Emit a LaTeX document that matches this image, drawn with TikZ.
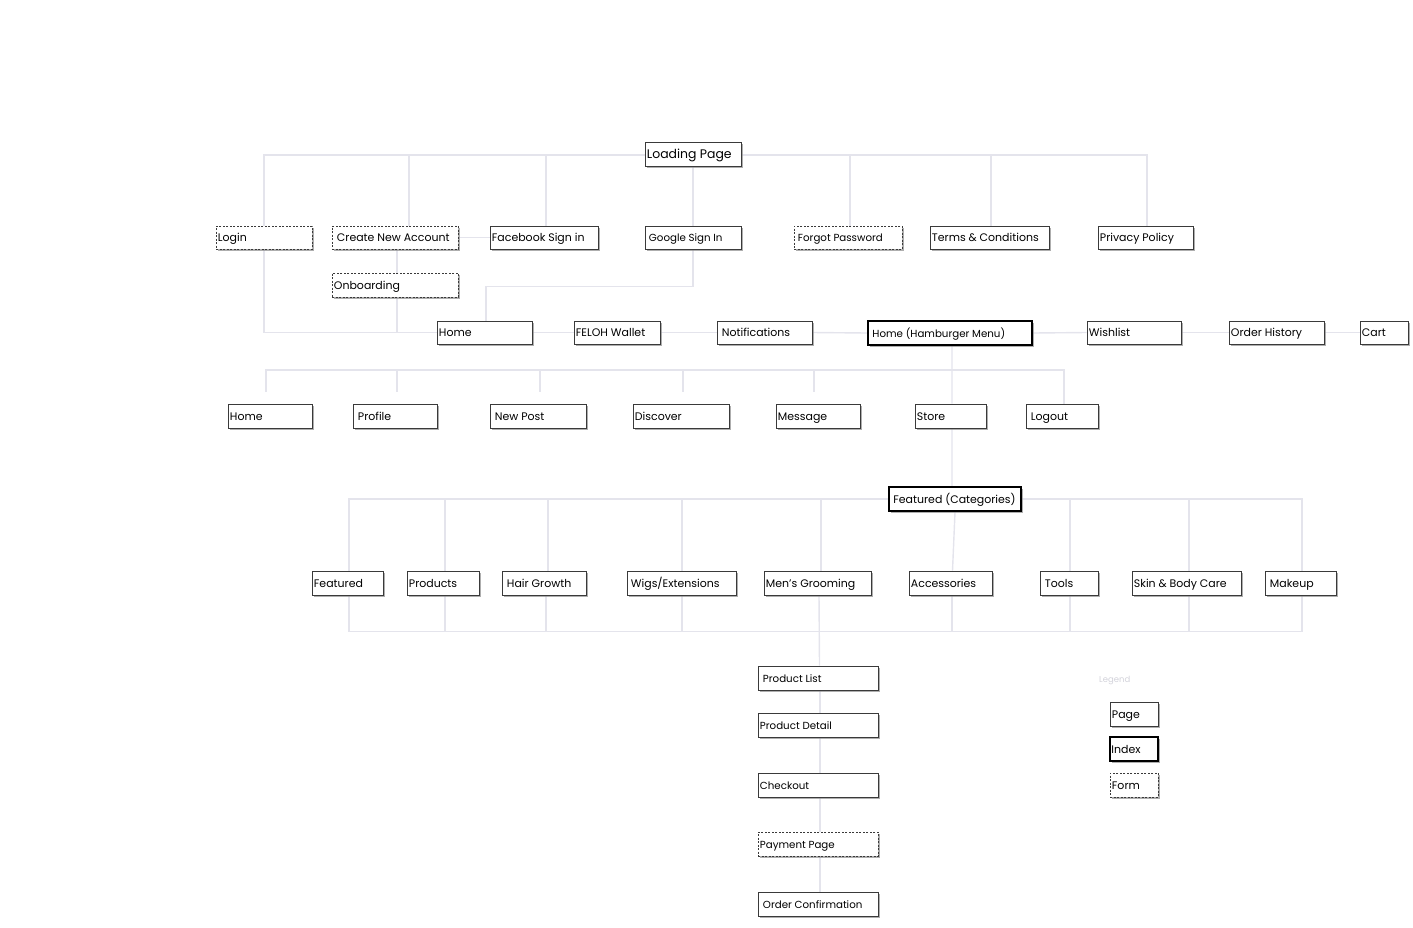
\documentclass[tikz,border=0pt]{standalone}
\usepackage{fontspec}
\setmainfont{Poppins}
\usetikzlibrary{backgrounds,shadows,calc}
\definecolor{boxc}{HTML}{3A3A3A}
\definecolor{linec}{HTML}{E4E4EC}
\definecolor{legc}{HTML}{D2D2DA}
\tikzset{
  base/.style={rectangle, inner sep=0pt, fill=white,
    drop shadow={shadow xshift=1.5bp, shadow yshift=-1.5bp, fill=black!45, opacity=0.7}},
  pagebox/.style={base, draw=boxc, line width=0.9bp},
  idxbox/.style={base, draw=black, line width=2bp},
  formbox/.style={base, draw=boxc, line width=0.9bp, dash pattern=on 2bp off 1.5bp},
  tn/.style={inner sep=0pt, text=black, font=\fontsize{11}{13}\selectfont},
  tsm/.style={inner sep=0pt, text=black, font=\fontsize{10.3}{12}\selectfont},
  tlg/.style={inner sep=0pt, text=black, font=\fontsize{12.5}{14}\selectfont},
  lnk/.style={draw=linec, line width=1.4bp},
}
\newcommand\mybox[8]{%
  \pgfmathsetmacro\cxx{(#3+#5)/2}\pgfmathsetmacro\cyy{(#4+#6)/2}%
  \pgfmathsetmacro\ww{#5-#3}\pgfmathsetmacro\hh{#6-#4}%
  \node[#2, minimum width=\ww bp, minimum height=\hh bp] (#1) at (\cxx,\cyy) {};%
  \node[#7, anchor=base west] (#1-t) at ([xshift=2.2bp,yshift=-4bp]#1.west) {#8};%
}
\begin{document}
\begin{tikzpicture}[x=1bp,y=-1bp]
\useasboundingbox (0,0) rectangle (1413,927);
% row 1
\mybox{load}{pagebox}{645}{142}{741}{166}{tlg}{Loading Page}
% row 2
\mybox{login}{formbox}{216}{226}{312}{249}{tn}{Login}
\mybox{create}{formbox}{332}{226}{458}{249}{tn}{\hspace{3bp}Create New Account}
\mybox{fb}{pagebox}{490}{226}{598}{249}{tn}{Facebook Sign in}
\mybox{google}{pagebox}{645}{226}{741}{249}{tsm}{\hspace{2bp}Google Sign In}
\mybox{forgot}{formbox}{794}{226}{902}{249}{tsm}{\hspace{2bp}Forgot Password}
\mybox{terms}{pagebox}{930}{226}{1049}{249}{tn}{Terms \& Conditions}
\mybox{privacy}{pagebox}{1098}{226}{1193}{249}{tn}{Privacy Policy}
\mybox{onb}{formbox}{332}{273}{458}{297}{tn}{Onboarding}
% row 3
\mybox{home1}{pagebox}{437}{321}{532}{344}{tn}{Home}
\mybox{wallet}{pagebox}{574}{321}{660}{344}{tn}{FELOH Wallet}
\mybox{notif}{pagebox}{717}{321}{812}{344}{tn}{\hspace{3bp}Notifications}
\mybox{hamb}{idxbox}{868}{321}{1032}{345}{tsm}{\hspace{3bp}Home (Hamburger Menu)}
\mybox{wish}{pagebox}{1087}{321}{1181}{344}{tn}{Wishlist}
\mybox{order}{pagebox}{1229}{321}{1324}{344}{tn}{Order History}
\mybox{cart}{pagebox}{1360}{321}{1408}{344}{tn}{Cart}
% row 4
\mybox{home2}{pagebox}{228}{404}{312}{428}{tn}{Home}
\mybox{profile}{pagebox}{353}{404}{437}{428}{tn}{\hspace{3bp}Profile}
\mybox{newpost}{pagebox}{490}{404}{586}{428}{tn}{\hspace{3bp}New Post}
\mybox{discover}{pagebox}{633}{404}{729}{428}{tn}{Discover}
\mybox{message}{pagebox}{776}{404}{860}{428}{tn}{Message}
\mybox{store}{pagebox}{915}{404}{986}{428}{tn}{Store}
\mybox{logout}{pagebox}{1026}{404}{1098}{428}{tn}{\hspace{3bp}Logout}
% categories
\mybox{featc}{idxbox}{889}{487}{1021}{511}{tn}{\hspace{3bp}Featured (Categories)}
\mybox{featured}{pagebox}{312}{571}{383}{595}{tn}{Featured}
\mybox{products}{pagebox}{407}{571}{479}{595}{tn}{Products}
\mybox{hair}{pagebox}{502}{571}{586}{595}{tn}{\hspace{3bp}Hair Growth}
\mybox{wigs}{pagebox}{627}{571}{736}{595}{tn}{\hspace{2bp}Wigs/Extensions}
\mybox{men}{pagebox}{764}{571}{871}{595}{tn}{Men's Grooming}
\mybox{acc}{pagebox}{909}{571}{992}{595}{tn}{Accessories}
\mybox{tools}{pagebox}{1040}{571}{1098}{595}{tn}{\hspace{3bp}Tools}
\mybox{skin}{pagebox}{1132}{571}{1241}{595}{tn}{Skin \& Body Care}
\mybox{makeup}{pagebox}{1265}{571}{1336}{595}{tn}{\hspace{3bp}Makeup}
% checkout column
\mybox{plist}{pagebox}{758}{666}{878}{690}{tsm}{\hspace{3bp}Product List}
\mybox{pdetail}{pagebox}{758}{713}{878}{737}{tsm}{Product Detail}
\mybox{checkout}{pagebox}{758}{773}{878}{797}{tsm}{Checkout}
\mybox{pay}{formbox}{758}{832}{878}{856}{tsm}{Payment Page}
\mybox{oconf}{pagebox}{758}{892}{878}{916}{tsm}{\hspace{3bp}Order Confirmation}
% legend
\node[inner sep=0pt, text=legc, font=\fontsize{8.5}{10}\selectfont, anchor=west] (legend) at (1099,680) {Legend};
\mybox{lpage}{pagebox}{1110}{702}{1158}{726}{tn}{Page}
\mybox{lindex}{idxbox}{1110}{737}{1158}{761}{tn}{Index}
\mybox{lform}{formbox}{1110}{773}{1158}{797}{tn}{Form}
% connectors
\begin{scope}[on background layer]
\draw[lnk] ([yshift=-1bp]load.west) -| (login.north);
\draw[lnk] ([yshift=-1bp]load.west) -| ([xshift=14bp]create.north);
\draw[lnk] ([yshift=-1bp]load.west) -| ([xshift=2bp]fb.north);
\draw[lnk] (load.south) -- (google.north);
\draw[lnk] ([yshift=-1bp]load.east) -| ([xshift=2bp]forgot.north);
\draw[lnk] ([yshift=-1bp]load.east) -| ([xshift=1.5bp]terms.north);
\draw[lnk] ([yshift=-1bp]load.east) -| ([xshift=1.5bp]privacy.north);
\draw[lnk] (create.east) -- (fb.west);
\draw[lnk] ([xshift=2bp]create.south) -- ([xshift=2bp]onb.north);
\draw[lnk] ([xshift=2bp]onb.south) -- ([xshift=2bp]onb.south |- home1.west);
\draw[lnk] (login.south) |- (home1.west);
\draw[lnk] (google.south) -- ++(0,37) -| ([xshift=1.5bp]home1.north);
\draw[lnk] (home1.east) -- (wallet.west);
\draw[lnk] (wallet.east) -- (notif.west);
\draw[lnk] (notif.east) -- (hamb.west);
\draw[lnk] (hamb.east) -- (wish.west);
\draw[lnk] (wish.east) -- (order.west);
\draw[lnk] (order.east) -- (cart.west);
\draw[lnk] ([xshift=2bp]hamb.south) -- ([xshift=1.5bp]store.north);
\coordinate (h3) at ([xshift=2bp,yshift=-24bp]hamb.south);
\draw[lnk] (h3) -| ([xshift=-4bp,yshift=12bp]home2.north);
\draw[lnk] (h3) -| ([xshift=2bp,yshift=12bp]profile.north);
\draw[lnk] (h3) -| ([xshift=2bp,yshift=12bp]newpost.north);
\draw[lnk] (h3) -| ([xshift=2bp,yshift=12bp]discover.north);
\draw[lnk] (h3) -| ([xshift=-4bp,yshift=12bp]message.north);
\draw[lnk] (h3) -| ([xshift=2bp]logout.north);
\draw[lnk] ([xshift=1.5bp]store.south) -- ([xshift=-3bp]featc.north);
\draw[lnk] (featc.west) -| ([xshift=1.5bp]featured.north);
\draw[lnk] (featc.west) -| ([xshift=2bp]products.north);
\draw[lnk] (featc.west) -| ([xshift=4bp]hair.north);
\draw[lnk] (featc.west) -| ([xshift=0.5bp]wigs.north);
\draw[lnk] (featc.west) -| ([xshift=3.5bp]men.north);
\draw[lnk] (featc.south) -- ([xshift=2bp]acc.north);
\draw[lnk] (featc.east) -| ([xshift=1bp]tools.north);
\draw[lnk] (featc.east) -| ([xshift=2.5bp]skin.north);
\draw[lnk] (featc.east) -| ([xshift=1.5bp]makeup.north);
\coordinate (bl) at ([xshift=1.5bp,yshift=-36bp]featured.south);
\draw[lnk] ([xshift=1.5bp]featured.south) -- (bl) -| ([xshift=1.5bp]makeup.south);
\draw[lnk] ([xshift=2bp]products.south) -- ([xshift=2bp]products.south |- bl);
\draw[lnk] ([xshift=2bp]hair.south) -- ([xshift=2bp]hair.south |- bl);
\draw[lnk] ([xshift=0.5bp]wigs.south) -- ([xshift=0.5bp]wigs.south |- bl);
\draw[lnk] ([xshift=1.5bp]acc.south) -- ([xshift=1.5bp]acc.south |- bl);
\draw[lnk] ([xshift=1bp]tools.south) -- ([xshift=1bp]tools.south |- bl);
\draw[lnk] ([xshift=2.5bp]skin.south) -- ([xshift=2.5bp]skin.south |- bl);
\draw[lnk] ([xshift=1.5bp]men.south) -- ([xshift=1.5bp]plist.north);
\draw[lnk] ([xshift=2bp]plist.south) -- ([xshift=2bp]pdetail.north);
\draw[lnk] ([xshift=2bp]pdetail.south) -- ([xshift=2bp]checkout.north);
\draw[lnk] ([xshift=2bp]checkout.south) -- ([xshift=2bp]pay.north);
\draw[lnk] ([xshift=2bp]pay.south) -- ([xshift=2bp]oconf.north);
\end{scope}
\end{tikzpicture}
\end{document}
